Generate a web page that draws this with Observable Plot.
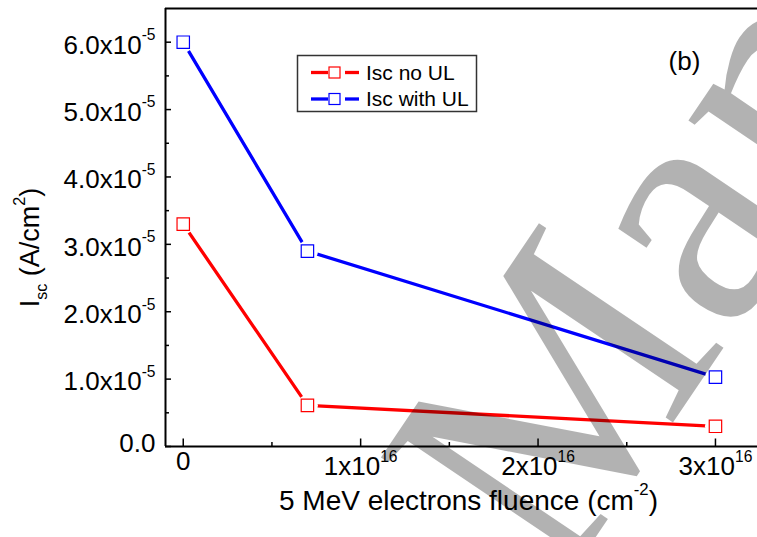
<!DOCTYPE html>
<html><head><meta charset="utf-8">
<script src="https://cdn.jsdelivr.net/npm/d3@7"></script>
<script src="https://cdn.jsdelivr.net/npm/@observablehq/plot@0.6"></script>
<style>
html,body{margin:0;padding:0;background:#fff;}
#chart{position:relative;width:757px;height:537px;overflow:hidden;background:#fff;}
#chart svg text{white-space:pre;}
</style></head><body><div id="chart"></div>
<script>
// ---- data ----
const fluence = [0, 7e15, 3e16];
const iscNoUL = [3.3e-5, 0.61e-5, 0.3e-5];
const iscWithUL = [6.0e-5, 2.9e-5, 1.03e-5];
const seriesNames = ["Isc no UL", "Isc with UL"];
const seriesColors = ["#ff0000", "#0000ff"];
const xDomain = [-1e15, 3.237e16];
const yDomain = [0, 6.5e-5];
const xTicks = [0, 1e16, 2e16, 3e16];
const xTickLabels = ["0", "1x10^{16}", "2x10^{16}", "3x10^{16}"];
const xMinorTicks = [5e15, 1.5e16, 2.5e16];
const yTicks = [0, 1e-5, 2e-5, 3e-5, 4e-5, 5e-5, 6e-5];
const yTickLabels = ["0.0", "1.0x10^{-5}", "2.0x10^{-5}", "3.0x10^{-5}", "4.0x10^{-5}", "5.0x10^{-5}", "6.0x10^{-5}"];
const yMinorTicks = [0.5e-5, 1.5e-5, 2.5e-5, 3.5e-5, 4.5e-5, 5.5e-5];
const xLabel = "5 MeV electrons fluence (cm^{-2})";
const yLabel = "I_{sc} (A/cm^{2})";
const panelLabel = "(b)";
const watermarkBefore = "Accepted";
const watermarkAfter = "Manuscript";

// ---- table ----
const rows = [];
fluence.forEach((f, i) => rows.push({series: seriesNames[0], x: f, y: iscNoUL[i]}));
fluence.forEach((f, i) => rows.push({series: seriesNames[1], x: f, y: iscWithUL[i]}));

const W = 757, H = 537, mL = 165, mT = 8, mR = 0, mB = 91;
const plotW = W - mL - mR, plotH = H - mT - mB;
const FONT = "'Liberation Sans', Arial, Helvetica, sans-serif";

const svg = Plot.plot({
  width: W, height: H,
  marginLeft: mL, marginTop: mT, marginRight: mR, marginBottom: mB,
  x: {domain: xDomain, axis: null},
  y: {domain: yDomain, axis: null},
  color: {domain: seriesNames, range: seriesColors},
  style: {fontFamily: FONT, background: "#fff", color: "#000", overflow: "visible"},
  marks: [
    Plot.line(rows, {x: "x", y: "y", z: "series", stroke: "series", strokeWidth: 3.3}),
    Plot.dot(rows, {x: "x", y: "y", r: 10.5, fill: "#fff", stroke: null}),
    Plot.dot(rows, {x: "x", y: "y", symbol: "square", r: 7, fill: "none", stroke: "series", strokeWidth: 1.2}),
    Plot.ruleY([yDomain[0]], {stroke: "#000", strokeWidth: 2}),
    Plot.ruleY([yDomain[1]], {stroke: "#000", strokeWidth: 2}),
    Plot.ruleX([xDomain[0]], {stroke: "#000", strokeWidth: 2}),
    Plot.tickX(xTicks, {x: d => d, insetTop: plotH - 7.5, stroke: "#000", strokeWidth: 1.5}),
    Plot.tickX(xMinorTicks, {x: d => d, insetTop: plotH - 4, stroke: "#000", strokeWidth: 1.5}),
    Plot.tickY(yTicks, {y: d => d, insetRight: plotW - 6, stroke: "#000", strokeWidth: 1.5}),
    Plot.tickY(yMinorTicks, {y: d => d, insetRight: plotW - 4, stroke: "#000", strokeWidth: 1.5}),
    Plot.text(xTicks, {x: d => d, frameAnchor: "bottom", text: (d, i) => xTickLabels[i],
      textAnchor: "middle", dy: 23.7, fontSize: 26, fill: "#000", ariaDescription: "x-tick-label"}),
    Plot.text(yTicks, {y: d => d, frameAnchor: "left", text: (d, i) => yTickLabels[i],
      textAnchor: "end", dx: -10, dy: -2.5, fontSize: 26, fill: "#000", ariaDescription: "y-tick-label"}),
    Plot.text([xLabel], {frameAnchor: "bottom", text: d => d, textAnchor: "middle",
      dx: 7, dy: 63.4, fontSize: 28, fill: "#000", ariaDescription: "x-label"}),
    Plot.text([yLabel], {frameAnchor: "left", text: d => d, textAnchor: "middle", rotate: -90,
      dx: -135.6, dy: 20, fontSize: 27, fill: "#000", ariaDescription: "y-label"}),
    Plot.text([panelLabel], {frameAnchor: "top-left", text: d => d, textAnchor: "middle",
      dx: 684 - mL, dy: 51 - mT, fontSize: 26, fill: "#000", ariaDescription: "panel-label"})
  ]
});

document.getElementById("chart").appendChild(svg);
svg.style.position = "absolute"; svg.style.left = "0"; svg.style.top = "0";

// ---- rich text (super/subscripts) ----
const NS = "http://www.w3.org/2000/svg";
function richText(el, base, supShift) {
  const s = el.textContent;
  if (!/[\^_]\{/.test(s)) return;
  while (el.firstChild) el.removeChild(el.firstChild);
  const re = /([\^_])\{([^}]*)\}/g;
  let last = 0, m; const parts = [];
  while ((m = re.exec(s))) {
    if (m.index > last) parts.push({t: s.slice(last, m.index), k: 0});
    parts.push({t: m[2], k: m[1] === "^" ? 1 : -1});
    last = re.lastIndex;
  }
  if (last < s.length) parts.push({t: s.slice(last), k: 0});
  let cur = 0;
  for (const p of parts) {
    const ts = document.createElementNS(NS, "tspan");
    const target = p.k === 1 ? -0.52 * base : p.k === -1 ? 0.3 * base : 0;
    ts.setAttribute("dy", target - cur); cur = target;
    if (p.k) ts.setAttribute("font-size", 0.6 * base);
    ts.textContent = p.t;
    el.appendChild(ts);
  }
  if (supShift) {
    el.setAttribute("transform", (el.getAttribute("transform") || "") + ` translate(0,${supShift})`);
  }
}
const groups = {"x-tick-label": [26, 5], "y-tick-label": [26, 5.5], "x-label": [28, 0], "y-label": [27, 0]};
for (const [name, [base, shift]] of Object.entries(groups)) {
  svg.querySelectorAll(`[aria-description="${name}"]`).forEach(node => {
    if (node.tagName.toLowerCase() === "text") richText(node, base, shift);
    else node.querySelectorAll("text").forEach(el => richText(el, base, shift));
  });
}
svg.querySelectorAll("text").forEach(el => {
  if (/[\^_]\{/.test(el.textContent)) {
    const fs = parseFloat(getComputedStyle(el).fontSize) || 26;
    richText(el, fs, 0);
  }
});

// ---- legend ----
const leg = d3.select(svg).append("g").attr("aria-label", "legend").attr("text-anchor", "start");
leg.append("rect").attr("x", 297.5).attr("y", 55.5).attr("width", 179).attr("height", 56)
  .attr("fill", "#fff").attr("stroke", "#333").attr("stroke-width", 1.5);
seriesNames.forEach((name, i) => {
  const cy = 72.5 + i * 26.5;
  const g = leg.append("g");
  g.append("line").attr("x1", 311).attr("x2", 328).attr("y1", cy).attr("y2", cy)
    .attr("stroke", seriesColors[i]).attr("stroke-width", 3.3);
  g.append("line").attr("x1", 345).attr("x2", 359).attr("y1", cy).attr("y2", cy)
    .attr("stroke", seriesColors[i]).attr("stroke-width", 3.3);
  g.append("rect").attr("x", 329).attr("y", cy - 5.5).attr("width", 11).attr("height", 11)
    .attr("fill", "none").attr("stroke", seriesColors[i]).attr("stroke-width", 1.2);
  g.append("text").attr("x", 366).attr("y", cy).attr("dy", "0.35em").attr("text-anchor", "start")
    .attr("font-size", 21).attr("font-family", FONT).attr("fill", "#000").text(name);
});

// ---- watermark ----
const wm = d3.select(svg).append("g").attr("aria-label", "watermark")
  .attr("transform", "translate(560,590) rotate(-56)")
  .attr("font-family", "'Liberation Serif', 'Times New Roman', serif")
  .attr("font-size", 340).attr("fill", "#000").attr("fill-opacity", 0.3);
wm.append("text").attr("text-anchor", "end").attr("dx", -85).text(watermarkBefore);
wm.append("text").attr("text-anchor", "start").text(watermarkAfter);
</script>
</body></html>
